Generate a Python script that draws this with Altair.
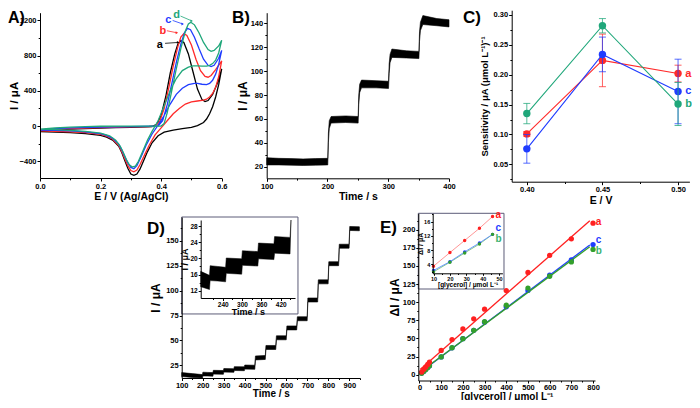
import altair as alt
import pandas as pd

FONT = "Liberation Sans"
W, H, OFF = 684, 392, 8

# ---------------- Panel A : cyclic voltammograms (E / V, I / uA) ----------------
A_a_E = [0, 0.05, 0.1, 0.15, 0.2, 0.25, 0.3, 0.35, 0.37, 0.385, 0.40, 0.415, 0.43, 0.445, 0.455, 0.465, 0.475,
         0.49, 0.505, 0.52, 0.535, 0.545, 0.555, 0.57, 0.585, 0.6,
         0.59, 0.58, 0.57, 0.56, 0.55, 0.54, 0.52, 0.50, 0.47, 0.44, 0.41, 0.39, 0.37, 0.355, 0.34, 0.33, 0.32,
         0.31, 0.30, 0.29, 0.28, 0.27, 0.26, 0.24, 0.22, 0.2, 0.15, 0.1, 0.05, 0]
A_a_I = [-62, -45, -35, -28, -22, -18, -14, -10, -5, 20, 120, 330, 600, 820, 930, 970, 950,
         820, 620, 420, 300, 278, 290, 360, 480, 650,
         470, 330, 220, 140, 80, 40, 5, -15, -30, -45, -70, -110, -190, -290, -410, -490, -545,
         -560, -545, -480, -390, -300, -230, -160, -125, -105, -85, -75, -68, -62]
A_b_E = [0, 0.05, 0.1, 0.2, 0.3, 0.36, 0.38, 0.395, 0.41, 0.425, 0.44, 0.455, 0.465, 0.475, 0.485, 0.5, 0.515,
         0.53, 0.545, 0.555, 0.565, 0.58, 0.59, 0.6,
         0.59, 0.58, 0.57, 0.56, 0.55, 0.54, 0.52, 0.50, 0.48, 0.46, 0.44, 0.42, 0.40, 0.38, 0.36, 0.345, 0.33,
         0.32, 0.31, 0.30, 0.29, 0.28, 0.27, 0.26, 0.24, 0.22, 0.2, 0.15, 0.1, 0.05, 0]
A_b_I = [-55, -38, -28, -18, -10, -5, 0, 50, 200, 430, 680, 900, 1010, 1050, 1030, 920, 760,
         630, 565, 555, 575, 640, 690, 740,
         560, 440, 370, 330, 305, 295, 285, 275, 250, 200, 140, 60, -20, -100, -220, -330, -440,
         -500, -520, -505, -450, -370, -290, -220, -150, -115, -95, -75, -65, -60, -55]
A_c_E = [0, 0.05, 0.1, 0.2, 0.3, 0.37, 0.39, 0.405, 0.42, 0.435, 0.45, 0.465, 0.477, 0.487, 0.497, 0.51, 0.525,
         0.54, 0.555, 0.565, 0.575, 0.59, 0.6,
         0.59, 0.58, 0.57, 0.56, 0.55, 0.535, 0.52, 0.51, 0.49, 0.47, 0.45, 0.43, 0.41, 0.39, 0.37, 0.35, 0.335,
         0.32, 0.31, 0.30, 0.29, 0.28, 0.27, 0.26, 0.24, 0.22, 0.2, 0.15, 0.1, 0.05, 0]
A_c_I = [-45, -30, -20, -12, -6, -2, 0, 60, 240, 480, 720, 930, 1060, 1110, 1095, 1010, 880,
         760, 690, 675, 690, 770, 860,
         700, 590, 520, 485, 470, 475, 485, 485, 470, 430, 360, 250, 120, 10, -90, -220, -340,
         -450, -485, -470, -420, -345, -270, -205, -140, -105, -85, -65, -55, -50, -45]
A_d_E = [0, 0.05, 0.1, 0.15, 0.2, 0.3, 0.4, 0.41, 0.42, 0.435, 0.45, 0.465, 0.48, 0.49, 0.498, 0.51, 0.525,
         0.54, 0.555, 0.565, 0.575, 0.59, 0.6,
         0.59, 0.58, 0.57, 0.56, 0.55, 0.535, 0.52, 0.505, 0.49, 0.47, 0.45, 0.43, 0.41, 0.39, 0.37, 0.355, 0.34,
         0.325, 0.315, 0.305, 0.295, 0.285, 0.275, 0.265, 0.25, 0.23, 0.2, 0.15, 0.1, 0.05, 0]
A_d_I = [-35, -22, -12, -6, -2, 0, 0, 30, 150, 400, 650, 880, 1080, 1160, 1180, 1150, 1060,
         950, 870, 850, 860, 910, 975,
         830, 750, 710, 690, 680, 680, 685, 685, 670, 630, 540, 400, 230, 60, -60, -160, -280,
         -400, -455, -465, -440, -380, -300, -230, -160, -110, -80, -60, -48, -40, -35]
A_labels = ["a", "b", "c", "d"]
A_colors = ["#000000", "#ff2a2a", "#1f3cff", "#1fa77a"]
A_lab_E = [0.396, 0.406, 0.424, 0.451]
A_lab_I = [920, 1085, 1205, 1262]
A_arr_E0 = [0.413, 0.419, 0.438, 0.464]
A_arr_I0 = [940, 1083, 1200, 1250]
A_arr_E1 = [0.456, 0.452, 0.471, 0.501]
A_arr_I1 = [950, 1060, 1160, 1195]

# ---------------- Panel B : amperometric steps (noise envelope) ----------------
B_t = [100, 120, 140, 160, 180, 200.5, 201.5, 203, 206, 230, 250.5, 251.5, 253, 256, 280,
       300.5, 301.5, 303, 306, 330, 350.5, 351.5, 353, 357, 380, 400]
B_lo = [21.5, 21.5, 21.3, 21, 21.3, 21.5, 40, 52, 56.5, 57, 56.5, 72, 82, 86, 86,
        85.5, 98, 107, 111.5, 111, 110.5, 125, 134, 139, 138, 137]
B_hi = [27.5, 27, 26.8, 26.5, 26.8, 27, 48, 58.5, 62, 62.5, 62, 80, 89, 92.5, 92,
        91.5, 106, 114, 118.5, 117, 116.5, 133, 141, 146.5, 144, 143]

# ---------------- Panel C : sensitivity vs potential ----------------
C_E = [0.40, 0.45, 0.50]
C_a = [0.101, 0.224, 0.202]
C_a_err = [0.004, 0.044, 0.014]
C_b = [0.135, 0.282, 0.151]
C_b_err = [0.017, 0.012, 0.036]
C_c = [0.076, 0.234, 0.172]
C_c_err = [0.024, 0.029, 0.054]
C_colors = {"a": "#ff2a2a", "b": "#1fa77a", "c": "#1f3cff"}

# ---------------- Panel D : long amperometric run (noise envelope) ----------------
D_t = [100, 150, 199, 201, 225, 249, 251, 299, 301, 349, 351, 399, 401, 449, 452, 499, 502, 549,
       552, 599, 602, 649, 652, 699, 702, 749, 752, 799, 802, 849, 852, 899, 902, 948]
D_lo = [13.8, 13.0, 12.3, 14.5, 14.4, 14.2, 16.3, 16.1, 18.3, 18.1, 19.9, 19.7, 21.3, 21.1, 30.5, 31, 41, 41,
        50.7, 50.7, 60.6, 60.6, 69.8, 69.8, 88.6, 88.6, 106.8, 106.8, 125, 125, 142.5, 142.5, 160.3, 160]
D_hi = [17.8, 16.8, 15.8, 18.2, 18.0, 17.8, 20.1, 19.9, 21.9, 21.7, 23.8, 23.6, 25.4, 25.2, 34.5, 35, 45, 45,
        54.7, 54.7, 64.6, 64.6, 73.8, 73.8, 92.6, 92.6, 110.8, 110.8, 129, 129, 146.5, 146.5, 164.3, 164]

# ---------------- Panel E : calibration ----------------
E_conc = [10, 20, 29, 38, 46, 100, 150, 200, 250, 300, 400, 500, 600, 700, 800]
E_a = [3.5, 7.3, 10.7, 14.1, 17.4, 33.4, 48.4, 63, 77, 90.4, 116, 141, 164.7, 187.4, 209]
E_b = [1.9, 4.6, 7.2, 9.7, 12.4, 24.4, 37.1, 49.7, 61.1, 73.3, 95.9, 119.5, 135.8, 155.6, 172.8]
E_c = [2.3, 4.75, 7.5, 10.0, 12.4, 24.4, 37.0, 49.7, 61.1, 72.4, 93.7, 116.2, 137.5, 158.3, 179.6]
E_colors = {"a": "#ff2020", "b": "#33a02c", "c": "#1f3cff"}
E_light = {"a": "#ff8a8a", "b": "#7cc47c", "c": "#5a8dff"}
E_labcol = {"a": "#ff2020", "b": "#3cb371", "c": "#1f3cff"}

# ---------------- layout (page pixels) ----------------
PANELS = {
    "A": dict(xd=[0, 0.6], xr=[40, 221.7], yd=[-590, 1288], yr=[178, 12.7]),
    "B": dict(xd=[100, 400], xr=[266.7, 449], yd=[10.3, 148.9], yr=[178.3, 12.7]),
    "C": dict(xd=[0.39, 0.5075], xr=[511.7, 689.4], yd=[0.021, 0.308], yr=[181.7, 10.2]),
    "D": dict(xd=[100, 951], xr=[181.7, 360], yd=[12.4, 173.8], yr=[378, 217]),
    "Di": dict(xd=[171.7, 464.4], xr=[200.7, 295], yd=[10.2, 29.5], yr=[298, 220]),
    "E": dict(xd=[-5.5, 809], xr=[418.3, 595], yd=[-8.1, 222.7], yr=[380.5, 213.3]),
    "Ei": dict(xd=[9.5, 52], xr=[432.7, 502.4], yd=[1.5, 18.3], yr=[273.3, 213.3]),
}


def sc(dom, rng, clamp=False):
    kw = dict(domain=dom, range=[rng[0] - OFF, rng[1] - OFF], nice=False, zero=False)
    if clamp:
        kw["clamp"] = True
    return alt.Scale(**kw)


def enc(p, xf, yf, clamp=False):
    P = PANELS[p]
    return dict(
        x=alt.X(xf, type="quantitative", scale=sc(P["xd"], P["xr"], clamp), axis=None),
        y=alt.Y(yf, type="quantitative", scale=sc(P["yd"], P["yr"], clamp), axis=None),
    )


def frame(p, xt, xv, xfmt, yt, yv, yfmt, xmin, ymin, lab=7.5, xts=10.5, yts=12,
          xtp=0, ytp=1, tick=3, lpad=1):
    P = PANELS[p]
    df = pd.DataFrame({"x": P["xd"], "y": P["yd"]})
    xoff = P["yr"][0] - OFF - H
    yoff = -(P["xr"][0] - OFF)
    major = alt.Chart(df).mark_point(opacity=0).encode(
        x=alt.X("x:Q", scale=sc(P["xd"], P["xr"]),
                axis=alt.Axis(orient="bottom", offset=xoff, title=xt, values=xv, format=xfmt,
                              labelFontSize=lab, titleFontSize=xts, titlePadding=xtp, tickSize=tick,
                              labelPadding=lpad, zindex=1)),
        y=alt.Y("y:Q", scale=sc(P["yd"], P["yr"]),
                axis=alt.Axis(orient="left", offset=yoff, title=yt, values=yv, format=yfmt,
                              labelFontSize=lab, titleFontSize=yts, titlePadding=ytp, tickSize=tick,
                              zindex=1)),
    )
    minor = alt.Chart(df).mark_point(opacity=0).encode(
        x=alt.X("x:Q", scale=sc(P["xd"], P["xr"]),
                axis=alt.Axis(orient="bottom", offset=xoff, title=None, values=xmin, labels=False,
                              domain=False, tickSize=tick * 0.6, zindex=1)),
        y=alt.Y("y:Q", scale=sc(P["yd"], P["yr"]),
                axis=alt.Axis(orient="left", offset=yoff, title=None, values=ymin, labels=False,
                              domain=False, tickSize=tick * 0.6, zindex=1)),
    )
    return [major, minor]


def panel_letter(p, text, xv, yv, size=17):
    df = pd.DataFrame({"x": [xv], "y": [yv], "t": [text]})
    return alt.Chart(df).mark_text(fontSize=size, fontWeight="bold", align="left",
                                   baseline="alphabetic", color="black").encode(
        **enc(p, "x", "y"), text="t:N")


layers = []

# ---- A
for E, I, col in [(A_a_E, A_a_I, A_colors[0]), (A_b_E, A_b_I, A_colors[1]),
                  (A_c_E, A_c_I, A_colors[2]), (A_d_E, A_d_I, A_colors[3])]:
    df = pd.DataFrame({"E": E, "I": I, "k": list(range(len(E)))})
    layers.append(alt.Chart(df).mark_line(color=col, strokeWidth=1.3).encode(
        **enc("A", "E", "I"), order="k:Q"))
A_ann = pd.DataFrame({"E": A_lab_E, "I": A_lab_I, "t": A_labels, "c": A_colors,
                      "E0": A_arr_E0, "I0": A_arr_I0, "E1": A_arr_E1, "I1": A_arr_I1})
layers.append(alt.Chart(A_ann).mark_text(fontSize=11, fontWeight="bold").encode(
    **enc("A", "E", "I"), text="t:N", color=alt.Color("c:N", scale=None)))
layers.append(alt.Chart(A_ann).mark_rule(strokeWidth=0.8).encode(
    **enc("A", "E0", "I0"), x2="E1:Q", y2="I1:Q", color=alt.Color("c:N", scale=None)))
layers.append(alt.Chart(A_ann).mark_point(shape="triangle-right", filled=True, size=8, opacity=1).encode(
    **enc("A", "E1", "I1"), color=alt.Color("c:N", scale=None)))
layers += frame("A", "E / V (Ag/AgCl)", [0, 0.2, 0.4, 0.6], ".1f", "I / μA",
                [-400, 0, 400, 800, 1200], "d", [0.1, 0.3, 0.5], [-200, 200, 600, 1000],
                ytp=0, yts=11.5, xtp=2)
layers.append(panel_letter("A", "A)", -0.1057, 1176, size=16))

# ---- B
B_df = pd.DataFrame({"t": B_t, "lo": B_lo, "hi": B_hi})
layers.append(alt.Chart(B_df).mark_area(color="black", stroke="black", strokeWidth=0.6).encode(
    **enc("B", "t", "lo"), y2="hi:Q"))
layers += frame("B", "Time / s", [100, 200, 300, 400], "d", "I / μA",
                [20, 40, 60, 80, 100, 120, 140], "d", [150, 250, 350],
                [30, 50, 70, 90, 110, 130], ytp=1, xtp=2)
layers.append(panel_letter("B", "B)", 42.9, 140.3))

# ---- C
C_df = pd.DataFrame({"E": C_E * 3, "v": C_a + C_b + C_c, "err": C_a_err + C_b_err + C_c_err,
                     "s": ["a"] * 3 + ["b"] * 3 + ["c"] * 3})
for s in ["a", "c", "b"]:
    base = alt.Chart(C_df).transform_filter(alt.datum.s == s).transform_calculate(
        lo="datum.v - datum.err", hi="datum.v + datum.err")
    col = C_colors[s]
    layers.append(base.mark_rule(color=col, strokeWidth=1, opacity=0.75).encode(
        **enc("C", "E", "lo"), y2="hi:Q"))
    layers.append(base.mark_rule(color=col, strokeWidth=1, opacity=0.75, xOffset=-3.5, x2Offset=3.5).encode(
        **enc("C", "E", "lo"), x2="E:Q"))
    layers.append(base.mark_rule(color=col, strokeWidth=1, opacity=0.75, xOffset=-3.5, x2Offset=3.5).encode(
        **enc("C", "E", "hi"), x2="E:Q"))
    layers.append(base.mark_line(color=col, strokeWidth=1.1).encode(**enc("C", "E", "v")))
    layers.append(base.mark_circle(color=col, size=55, opacity=1).encode(**enc("C", "E", "v")))
C_lab = pd.DataFrame({"E": [0.5048] * 3, "v": [C_a[2], C_c[2], C_b[2]], "t": ["a", "c", "b"],
                      "c": [C_colors["a"], C_colors["c"], C_colors["b"]]})
layers.append(alt.Chart(C_lab).mark_text(fontSize=11, fontWeight="bold", align="left",
                                         baseline="middle").encode(
    **enc("C", "E", "v"), text="t:N", color=alt.Color("c:N", scale=None)))
layers += frame("C", "E / V", [0.40, 0.45, 0.50], ".2f", "Sensitivity / μA (μmol L\u207b\u00b9)\u207b\u00b9",
                [0.05, 0.10, 0.15, 0.20, 0.25, 0.30], ".2f", [0.425, 0.475],
                [0.025, 0.075, 0.125, 0.175, 0.225, 0.275], yts=9.5, ytp=4, xtp=2)
layers.append(panel_letter("C", "C)", 0.3578, 0.2866))

# ---- D
D_df = pd.DataFrame({"t": D_t, "lo": D_lo, "hi": D_hi})
layers.append(alt.Chart(D_df).mark_area(color="black", stroke="black", strokeWidth=0.6).encode(
    **enc("D", "t", "lo"), y2="hi:Q"))
layers += frame("D", "Time / s", [100, 200, 300, 400, 500, 600, 700, 800, 900], "d", "I / μA",
                [25, 50, 75, 100, 125, 150], "d", [150, 250, 350, 450, 550, 650, 750, 850, 950],
                [37.5, 62.5, 87.5, 112.5, 137.5, 162.5], ytp=3, xtp=0, xts=10, tick=2.5, lpad=0.5)
D_box = pd.DataFrame({"x0": [100], "x1": [655], "y0": [76.6], "y1": [173.8]})
layers.append(alt.Chart(D_box).mark_rect(fill="white", stroke="#5c5c78", strokeWidth=1).encode(
    **enc("D", "x0", "y0"), x2="x1:Q", y2="y1:Q"))
layers.append(alt.Chart(D_df).transform_filter((alt.datum.t >= 150) & (alt.datum.t <= 452)).mark_area(
    color="black", stroke="black", strokeWidth=0.5).encode(**enc("Di", "t", "lo", clamp=True), y2="hi:Q"))
layers += frame("Di", "Time / s", [240, 300, 360, 420], "d", "I / μA", [12, 16, 20, 24, 28], "d",
                [210, 270, 330, 390, 450], [14, 18, 22, 26], lab=6.5, xts=9, yts=9, xtp=-1, ytp=0, tick=2.5)
layers.append(panel_letter("D", "D)", -65.6, 157))

# ---- E
n = len(E_conc)
E_df = pd.DataFrame({"conc": E_conc * 3, "val": E_a + E_b + E_c, "s": ["a"] * n + ["b"] * n + ["c"] * n})
for s in ["c", "b", "a"]:
    base = alt.Chart(E_df).transform_filter(alt.datum.s == s)
    layers.append(base.transform_regression("conc", "val", extent=[3, 785]).mark_line(
        color=E_colors[s], strokeWidth=1.3).encode(**enc("E", "conc", "val")))
    layers.append(base.mark_circle(color=E_colors[s], size=28, opacity=1).encode(**enc("E", "conc", "val")))
E_lab = pd.DataFrame({"x": [812, 812, 812], "v": [211.1, 185.5, 170.3], "t": ["a", "c", "b"],
                      "c": [E_labcol["a"], E_labcol["c"], E_labcol["b"]]})
layers.append(alt.Chart(E_lab).mark_text(fontSize=10, fontWeight="bold", align="left",
                                         baseline="middle").encode(
    **enc("E", "x", "v"), text="t:N", color=alt.Color("c:N", scale=None)))
layers += frame("E", "[glycerol] / μmol L\u207b\u00b9", [0, 100, 200, 300, 400, 500, 600, 700, 800], "d",
                "ΔI / μA", [0, 25, 50, 75, 100, 125, 150, 175, 200], "d",
                [50, 150, 250, 350, 450, 550, 650, 750],
                [12.5, 37.5, 62.5, 87.5, 112.5, 137.5, 162.5, 187.5, 212.5], ytp=1, xtp=0, xts=10,
                tick=2.5, lpad=0.5)
E_box = pd.DataFrame({"x0": [-5.5], "x1": [389.5], "y0": [118.2], "y1": [222.7]})
layers.append(alt.Chart(E_box).mark_rect(fill="white", stroke="#5c5c78", strokeWidth=1).encode(
    **enc("E", "x0", "y0"), x2="x1:Q", y2="y1:Q"))
for s in ["b", "c", "a"]:
    base = alt.Chart(E_df).transform_filter((alt.datum.s == s) & (alt.datum.conc <= 50))
    layers.append(base.mark_line(color=E_light[s], strokeWidth=0.9).encode(**enc("Ei", "conc", "val")))
for s in ["c", "b", "a"]:
    base = alt.Chart(E_df).transform_filter((alt.datum.s == s) & (alt.datum.conc <= 50))
    layers.append(base.mark_circle(color=E_colors[s], size=12, opacity=1).encode(**enc("Ei", "conc", "val")))
Ei_lab = pd.DataFrame({"x": [47.8, 47.8, 47.8], "v": [17.83, 14.1, 11.0], "t": ["a", "c", "b"],
                       "c": [E_labcol["a"], E_labcol["c"], E_labcol["b"]]})
layers.append(alt.Chart(Ei_lab).mark_text(fontSize=10, fontWeight="bold", align="left",
                                          baseline="middle").encode(
    **enc("Ei", "x", "v"), text="t:N", color=alt.Color("c:N", scale=None)))
layers += frame("Ei", "[glycerol] / μmol L\u207b\u00b9", [10, 20, 30, 40, 50], "d", "ΔI / μA",
                [4, 8, 12, 16], "d", [15, 25, 35, 45], [2, 6, 10, 14, 18],
                lab=5.5, xts=6.5, yts=7, xtp=0, ytp=0, tick=2)
layers.append(panel_letter("E", "E)", -182, 195.9))

chart = alt.layer(*layers).properties(
    width=W, height=H, autosize=alt.AutoSizeParams(type="none"), padding=0
).resolve_scale(x="independent", y="independent").configure_view(stroke=None).configure_axis(
    labelFont=FONT, titleFont=FONT, labelFontWeight="bold", titleFontWeight="bold",
    labelColor="black", titleColor="black", domainColor="black", tickColor="black",
    domainWidth=1, tickWidth=1, grid=False, labelFlush=False, labelOverlap=False, labelPadding=1
).configure_text(font=FONT)

chart.save("out.html", embed_options={"renderer": "svg", "actions": False})
